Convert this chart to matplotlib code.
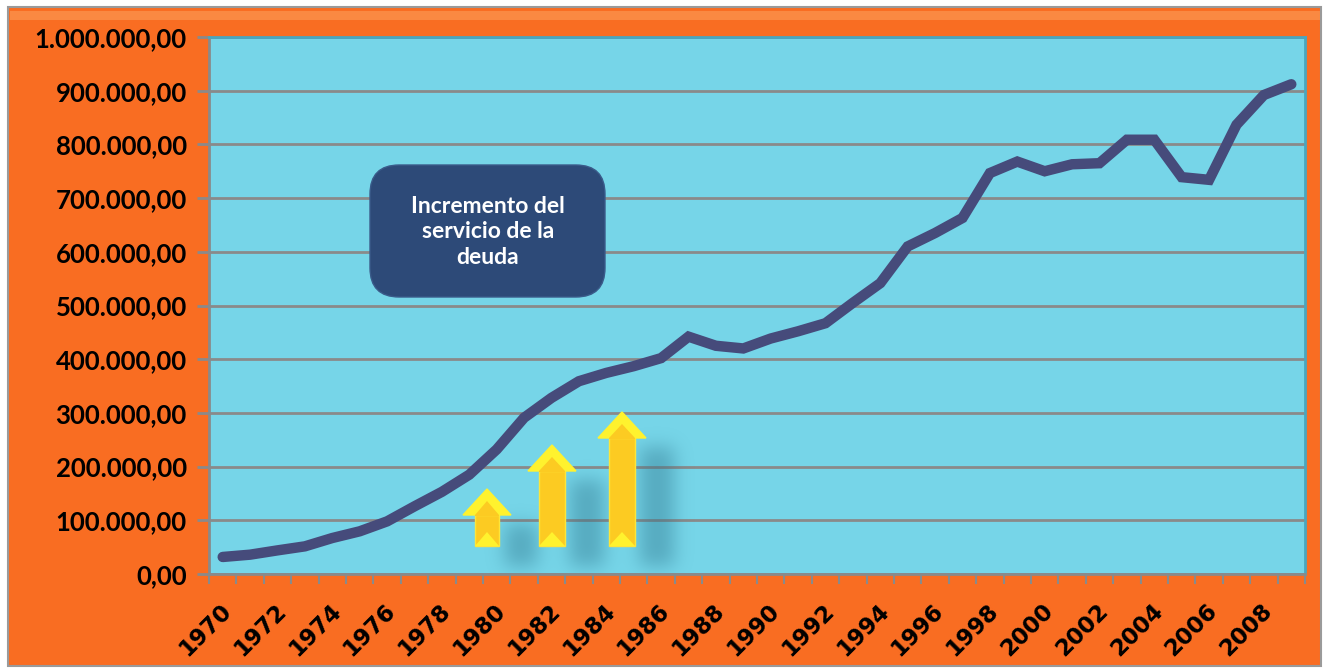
import matplotlib
matplotlib.use("Agg")
import matplotlib.pyplot as plt
import matplotlib.transforms as mtransforms
from matplotlib.patches import Rectangle, FancyBboxPatch, Polygon
from matplotlib.ticker import FuncFormatter, MultipleLocator, FixedLocator
import numpy as np

years = list(range(1970, 2010))
values = [31700, 36000, 44000, 51500, 67000, 79500, 98000, 126000, 153000, 185000,
          232000, 291000, 328000, 359000, 374500, 387000, 402000, 442000, 425000, 420000,
          438500, 452000, 467000, 505000, 541600, 610000, 635000, 663000, 746600, 768000,
          750000, 763000, 765000, 808700, 808700, 739000, 734000, 836600, 892000, 912000]
tick_labels = [str(y) for y in range(1970, 2010, 2)]
annotation = "Incremento del\nservicio de la\ndeuda"

ORANGE = "#F96D22"
PLOT_BG = "#76D5E8"
LINE = "#464B7B"
GRID = "#8A8A8A"
BOX = "#2D4A78"

FONT = ["Lato", "DejaVu Sans"]

fig = plt.figure(figsize=(13.24, 6.70), dpi=100, facecolor="white")
W, H = 1324, 670

# orange frame background
fig.patches.append(Rectangle((8 / W, 4 / H), 1313 / W, 659 / H, transform=fig.transFigure,
                             facecolor=ORANGE, edgecolor="#9a9a9a", linewidth=1.5, zorder=-2))
fig.patches.append(Rectangle((10 / W, 650 / H), 1310 / W, 9 / H, transform=fig.transFigure,
                             facecolor="#FB9550", edgecolor="none", zorder=-1, alpha=0.7))

AW, AH = 1096, 537
ax = fig.add_axes([209 / W, 96 / H, AW / W, AH / H])
ax.set_zorder(1)
ax.set_facecolor(PLOT_BG)

x = np.arange(len(years))

ax.yaxis.set_major_locator(MultipleLocator(100000))


def fmt(v, pos):
    s = f"{v:,.2f}"
    return s.replace(",", "X").replace(".", ",").replace("X", ".")


ax.yaxis.set_major_formatter(FuncFormatter(fmt))
ax.grid(axis="y", color=GRID, linewidth=2, zorder=1)
ax.set_axisbelow(True)

ax.set_xticks(np.arange(0, len(years), 2))
ax.set_xticklabels(tick_labels)
ax.xaxis.set_minor_locator(FixedLocator(np.arange(-0.5, len(years), 1)))
ax.tick_params(axis="x", which="major", length=0, pad=18)
ax.tick_params(axis="x", which="minor", length=7, width=1.5, color=GRID, direction="out")
ax.tick_params(axis="y", length=9, width=2, color=GRID, pad=7)

offset = mtransforms.ScaledTranslation(-3 / 100, 0, fig.dpi_scale_trans)
for lab in ax.get_xticklabels():
    lab.set_rotation(45)
    lab.set_ha("right")
    lab.set_va("top")
    lab.set_rotation_mode("anchor")
    lab.set_fontsize(16.5)
    lab.set_fontweight("bold")
    lab.set_family(["DejaVu Sans"])
    lab.set_transform(lab.get_transform() + offset)
for lab in ax.get_yticklabels():
    lab.set_fontsize(18.5)
    lab.set_fontweight("bold")
    lab.set_family(FONT)

for side in ["top", "right"]:
    ax.spines[side].set_color("#4AA6BE")
    ax.spines[side].set_linewidth(2)
for side in ["left", "bottom"]:
    ax.spines[side].set_color(GRID)
    ax.spines[side].set_linewidth(2)

ax.plot(x, values, color=LINE, linewidth=7.5, solid_capstyle="round",
        solid_joinstyle="miter", zorder=5)

# text box
box = FancyBboxPatch((370 / W, (670 - 297) / H), 235 / W, 132 / H,
                     boxstyle="round,pad=0,rounding_size=0.022",
                     transform=fig.transFigure, facecolor=BOX, edgecolor="#3a5b8a",
                     linewidth=1, zorder=3, mutation_aspect=W / H)
fig.patches.append(box)
fig.text(488 / W, (670 - 232) / H, annotation, color="white", fontsize=16.5,
         fontweight="bold", family=FONT, ha="center", va="center",
         linespacing=1.27, zorder=4)

# decorative arrows with soft shadows (figure pixel positions, top-left origin)
arrows = [(487, 546, 489, 24), (552, 546, 445, 26), (622, 546, 412, 26)]

mask = np.zeros((AH, AW))
for cx, ybot, ytop, sw in arrows:
    sx0 = int(cx - 209 + 18)
    sx1 = sx0 + sw + 8
    sy0 = int(ytop - 37 + 35)
    sy1 = int(ybot - 37 + 20)
    mask[sy0:sy1, sx0:sx1] = 1.0


def blur(a, sigma):
    r = int(3 * sigma)
    t = np.arange(-r, r + 1)
    k = np.exp(-t ** 2 / (2 * sigma ** 2))
    k /= k.sum()
    a = np.apply_along_axis(lambda m: np.convolve(m, k, mode="same"), 0, a)
    a = np.apply_along_axis(lambda m: np.convolve(m, k, mode="same"), 1, a)
    return a


mask = blur(mask, 9)
rgba = np.zeros((AH, AW, 4))
rgba[..., 0] = 0x2a / 255
rgba[..., 1] = 0x70 / 255
rgba[..., 2] = 0x88 / 255
rgba[..., 3] = np.clip(mask, 0, 1) * 0.42
ax.imshow(rgba, extent=[0, 1, 0, 1], transform=ax.transAxes, aspect="auto",
          zorder=2, interpolation="bilinear")


def P(px, py):
    return ((px - 209) / AW, (574 - py) / AH)


for cx, ybot, ytop, sw in arrows:
    hw, hh = 24, 26
    neck = ytop + hh
    shaft = [P(cx - sw / 2, ybot), P(cx + sw / 2, ybot), P(cx + sw / 2, neck),
             P(cx - sw / 2, neck)]
    ax.add_patch(Polygon(shaft, closed=True, transform=ax.transAxes,
                         facecolor="#FCCB22", edgecolor="#FDE53A", linewidth=1, zorder=3))
    head = [P(cx - hw, neck), P(cx, ytop), P(cx + hw, neck)]
    ax.add_patch(Polygon(head, closed=True, transform=ax.transAxes,
                         facecolor="#FFF22E", edgecolor="#FFF22E", linewidth=1, zorder=3))
    notch = [P(cx - sw / 2, neck), P(cx, neck - 14), P(cx + sw / 2, neck),
             P(cx + sw / 2, neck + 1), P(cx - sw / 2, neck + 1)]
    ax.add_patch(Polygon(notch, closed=True, transform=ax.transAxes,
                         facecolor="#FCCB22", edgecolor="none", zorder=3.1))
    chev = [P(cx - sw / 2, ybot), P(cx, ybot - 14), P(cx + sw / 2, ybot)]
    ax.add_patch(Polygon(chev, closed=True, transform=ax.transAxes,
                         facecolor="#FFF22E", edgecolor="none", zorder=3.2))

ax.set_xlim(-0.5, len(years) - 0.5)
ax.set_ylim(0, 1000000)

fig.savefig("out.png", dpi=100, facecolor="white")
